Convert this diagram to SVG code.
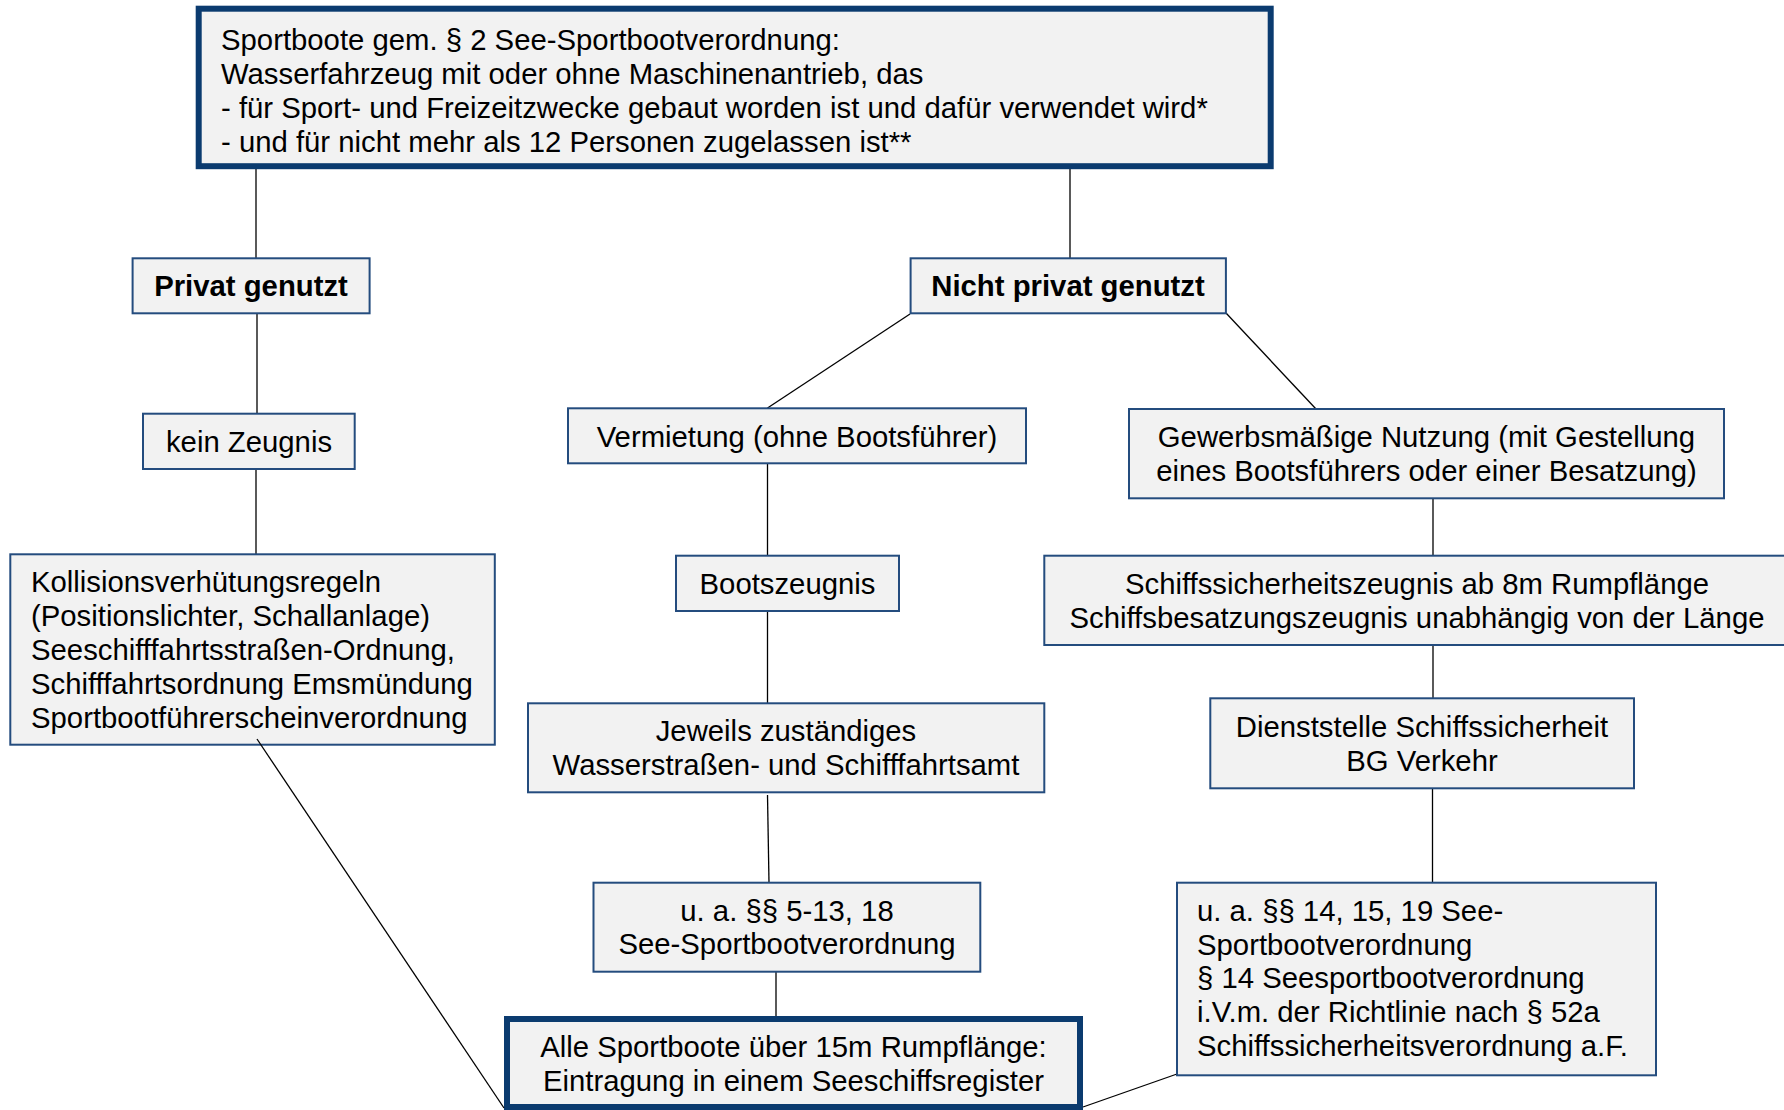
<svg xmlns="http://www.w3.org/2000/svg" width="1784" height="1110" viewBox="0 0 1784 1110">
<style>
.box{fill:#F2F2F2;stroke:#244C7E;stroke-width:2}
.thick{fill:#F2F2F2;stroke:#0B3B6F;stroke-width:6}
.t{font-family:"Liberation Sans",Arial,sans-serif;font-size:29.3px;fill:#000}
.c{text-anchor:middle}
.b{font-weight:bold}
.ln{stroke:#000;stroke-width:1.3;fill:none}
</style>
<rect width="1784" height="1110" fill="#fff"/>
<g id="connectors">
<line class="ln" x1="256" y1="169" x2="256" y2="258"/>
<line class="ln" x1="1070" y1="169" x2="1070" y2="258"/>
<line class="ln" x1="257" y1="313" x2="257" y2="414"/>
<line class="ln" x1="256" y1="469" x2="256" y2="555"/>
<line class="ln" x1="910" y1="314" x2="767.5" y2="408"/>
<line class="ln" x1="1226" y1="313" x2="1316" y2="409"/>
<line class="ln" x1="767.5" y1="463" x2="767.5" y2="556"/>
<line class="ln" x1="767.5" y1="611" x2="767.5" y2="703"/>
<line class="ln" x1="767.5" y1="795" x2="769" y2="883"/>
<line class="ln" x1="776" y1="972" x2="776" y2="1016"/>
<line class="ln" x1="1433" y1="497" x2="1433" y2="556"/>
<line class="ln" x1="1433" y1="645" x2="1433" y2="699"/>
<line class="ln" x1="1432.5" y1="788" x2="1432.5" y2="883"/>
<line class="ln" x1="1177" y1="1074" x2="1083" y2="1107"/>
</g>
<g id="n-top">
<rect class="thick" x="198.7" y="8.7" width="1072" height="157.5"/>
<text class="t" x="221" y="49.5">Sportboote gem. § 2 See-Sportbootverordnung:</text>
<text class="t" x="221" y="83.5">Wasserfahrzeug mit oder ohne Maschinenantrieb, das</text>
<text class="t" x="221" y="117.5">- für Sport- und Freizeitzwecke gebaut worden ist und dafür verwendet wird*</text>
<text class="t" x="221" y="151.5">- und für nicht mehr als 12 Personen zugelassen ist**</text>
</g>
<g id="n-privat">
<rect class="box" x="132.6" y="258.3" width="237" height="55"/>
<text class="t c b" x="251" y="296.3">Privat genutzt</text>
</g>
<g id="n-nichtprivat">
<rect class="box" x="910.6" y="258.3" width="315.3" height="55"/>
<text class="t c b" x="1068" y="296.3">Nicht privat genutzt</text>
</g>
<g id="n-kein">
<rect class="box" x="143" y="413.7" width="211.7" height="55.3"/>
<text class="t c" x="249" y="451.5">kein Zeugnis</text>
</g>
<g id="n-vermietung">
<rect class="box" x="568" y="408.3" width="458" height="55"/>
<text class="t c" x="797" y="446.5">Vermietung (ohne Bootsführer)</text>
</g>
<g id="n-gewerbs">
<rect class="box" x="1129" y="409" width="595" height="89.3"/>
<text class="t c" x="1426.5" y="447">Gewerbsmäßige Nutzung (mit Gestellung</text>
<text class="t c" x="1426.5" y="481">eines Bootsführers oder einer Besatzung)</text>
</g>
<g id="n-kollision">
<rect class="box" x="10.3" y="554.3" width="484.5" height="190.4"/>
<text class="t" x="31" y="592">Kollisionsverhütungsregeln</text>
<text class="t" x="31" y="626">(Positionslichter, Schallanlage)</text>
<text class="t" x="31" y="660">Seeschifffahrtsstraßen-Ordnung,</text>
<text class="t" x="31" y="694">Schifffahrtsordnung Emsmündung</text>
<text class="t" x="31" y="728">Sportbootführerscheinverordnung</text>
</g>
<g id="n-bootszeugnis">
<rect class="box" x="676" y="555.7" width="223" height="55.3"/>
<text class="t c" x="787.5" y="594">Bootszeugnis</text>
</g>
<g id="n-schiffssicherheit">
<rect class="box" x="1044.3" y="555.7" width="746" height="89.3"/>
<text class="t c" x="1417" y="594">Schiffssicherheitszeugnis ab 8m Rumpflänge</text>
<text class="t c" x="1417" y="628">Schiffsbesatzungszeugnis unabhängig von der Länge</text>
</g>
<g id="n-jeweils">
<rect class="box" x="528" y="703.3" width="516.3" height="89"/>
<text class="t c" x="786" y="741">Jeweils zuständiges</text>
<text class="t c" x="786" y="775">Wasserstraßen- und Schifffahrtsamt</text>
</g>
<g id="n-dienststelle">
<rect class="box" x="1210.3" y="698.3" width="423.7" height="90"/>
<text class="t c" x="1422" y="736.5">Dienststelle Schiffssicherheit</text>
<text class="t c" x="1422" y="770.5">BG Verkehr</text>
</g>
<g id="n-ua513">
<rect class="box" x="593.5" y="882.7" width="386.8" height="89"/>
<text class="t c" x="787" y="920.5">u. a. §§ 5-13, 18</text>
<text class="t c" x="787" y="954">See-Sportbootverordnung</text>
</g>
<g id="n-ua1415">
<rect class="box" x="1177" y="882.7" width="479" height="192.6"/>
<text class="t" x="1197" y="920.5">u. a. §§ 14, 15, 19 See-</text>
<text class="t" x="1197" y="954.5">Sportbootverordnung</text>
<text class="t" x="1197" y="988">§ 14 Seesportbootverordnung</text>
<text class="t" x="1197" y="1022">i.V.m. der Richtlinie nach § 52a</text>
<text class="t" x="1197" y="1056">Schiffssicherheitsverordnung a.F.</text>
</g>
<g id="n-alle">
<rect class="thick" x="507" y="1019" width="573" height="88"/>
<text class="t c" x="793.5" y="1057">Alle Sportboote über 15m Rumpflänge:</text>
<text class="t c" x="793.5" y="1091">Eintragung in einem Seeschiffsregister</text>
</g>
<g id="connectors-over">
<line class="ln" x1="257" y1="739" x2="504" y2="1108"/>
</g>
</svg>
